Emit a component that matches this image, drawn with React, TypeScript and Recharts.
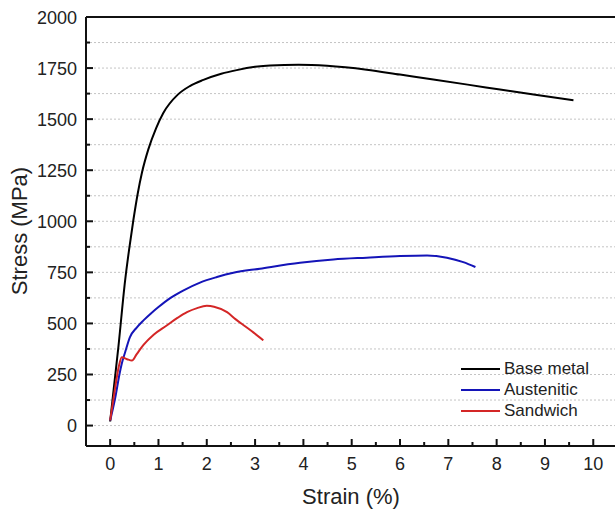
import { LineChart, Line, XAxis, YAxis, CartesianGrid, ReferenceLine, Legend } from 'recharts';

// Stress-strain curves
const seriesNames = ['Base metal', 'Austenitic', 'Sandwich'];

const baseMetalStrain = [0, 0.07, 0.17, 0.31, 0.39, 0.48, 0.57, 0.66, 0.79, 0.95, 1.1, 1.4, 1.65, 1.93, 2.3, 2.62, 3.0, 3.31, 3.9, 4.49, 5.31, 6.0, 6.69, 7.4, 8.07, 8.8, 9.59];
const baseMetalStress = [20, 171, 384, 711, 858, 1005, 1135, 1240, 1352, 1455, 1530, 1620, 1662, 1692, 1722, 1740, 1756, 1763, 1766, 1761, 1742, 1718, 1694, 1669, 1645, 1619, 1593];

const austeniticStrain = [0, 0.1, 0.2, 0.24, 0.31, 0.41, 0.55, 0.69, 0.85, 1.0, 1.25, 1.52, 1.86, 2.21, 2.55, 3.1, 3.93, 4.62, 5.31, 6.0, 6.56, 6.97, 7.31, 7.56];
const austeniticStress = [25, 130, 260, 303, 359, 433, 480, 515, 550, 580, 625, 662, 700, 727, 748, 768, 797, 813, 822, 830, 833, 822, 800, 776];

const sandwichStrain = [0, 0.1, 0.18, 0.24, 0.35, 0.45, 0.55, 0.69, 0.9, 1.17, 1.4, 1.59, 1.8, 2.0, 2.15, 2.42, 2.6, 2.8, 2.97, 3.17];
const sandwichStress = [25, 180, 290, 335, 325, 318, 350, 395, 445, 490, 528, 555, 575, 586, 582, 555, 520, 485, 455, 417];

const xTicks = [0, 0.5, 1, 1.5, 2, 2.5, 3, 3.5, 4, 4.5, 5, 5.5, 6, 6.5, 7, 7.5, 8, 8.5, 9, 9.5, 10];
const yTicks = [0, 125, 250, 375, 500, 625, 750, 875, 1000, 1125, 1250, 1375, 1500, 1625, 1750, 1875, 2000];
const gridValues = [0, 125, 250, 375, 500, 625, 750, 875, 1000, 1125, 1250, 1375, 1500, 1625, 1750, 1875];

const toPoints = (xs: number[], ys: number[]) => xs.map((x, i) => ({ strain: x, stress: ys[i] }));

const FONT = '"Liberation Sans", Arial, sans-serif';
const AXIS_X = 86;
const AXIS_Y = 446;

function YTick(props: any) {
  const { y, payload } = props;
  const major = payload.value % 250 === 0;
  return (
    <g>
      {payload.value !== 2000 && (
        <line x1={AXIS_X} x2={AXIS_X + (major ? 7 : 4)} y1={y} y2={y} stroke="#111" strokeWidth={2} />
      )}
      {major && (
        <text x={AXIS_X - 9} y={y + 6.5} textAnchor="end" fontSize={18} fontFamily={FONT} fill="#222">
          {payload.value}
        </text>
      )}
    </g>
  );
}

function XTick(props: any) {
  const { x, payload } = props;
  const major = Number.isInteger(payload.value);
  return (
    <g>
      <line x1={x} x2={x} y1={AXIS_Y} y2={AXIS_Y - (major ? 7 : 4)} stroke="#111" strokeWidth={2} />
      {major && (
        <text x={x} y={AXIS_Y + 24} textAnchor="middle" fontSize={18} fontFamily={FONT} fill="#222">
          {payload.value}
        </text>
      )}
    </g>
  );
}

function LegendBox(props: any) {
  const items = [...(props.payload || [])].sort(
    (a: any, b: any) => seriesNames.indexOf(a.value) - seriesNames.indexOf(b.value)
  );
  return (
    <div style={{ fontFamily: FONT, fontSize: 17, color: '#222' }}>
      {items.map((it: any) => (
        <div key={it.value} style={{ display: 'flex', alignItems: 'center', height: 21 }}>
          <span style={{ display: 'inline-block', width: 39, height: 2, background: it.color, marginRight: 4 }} />
          <span>{it.value}</span>
        </div>
      ))}
    </div>
  );
}

export default function App() {
  return (
    <div>
      <style>{`body{margin:0}`}</style>
      <LineChart width={615} height={511} margin={{ top: 17, right: 0, bottom: 0, left: 0 }}>
        <CartesianGrid
          horizontal
          vertical={false}
          horizontalValues={gridValues}
          stroke="#c4c4c4"
          strokeDasharray="2 2"
        />
        <XAxis
          type="number"
          dataKey="strain"
          domain={[-0.5, 10.45]}
          ticks={xTicks}
          interval={0}
          height={65}
          axisLine={{ stroke: '#111', strokeWidth: 2 }}
          tickLine={false}
          tick={<XTick />}
          allowDataOverflow
          label={{
            content: () => (
              <text x={351} y={504} textAnchor="middle" fontSize={22} fontFamily={FONT} fill="#222">
                Strain (%)
              </text>
            ),
          }}
        />
        <YAxis
          type="number"
          dataKey="stress"
          domain={[-100, 2000]}
          ticks={yTicks}
          interval={0}
          width={86}
          axisLine={{ stroke: '#111', strokeWidth: 2 }}
          tickLine={false}
          tick={<YTick />}
          allowDataOverflow
          label={{
            content: () => (
              <text
                x={27}
                y={231}
                transform="rotate(-90 27 231)"
                textAnchor="middle"
                fontSize={22}
                fontFamily={FONT}
                fill="#222"
              >
                Stress (MPa)
              </text>
            ),
          }}
        />
        <ReferenceLine y={2000} stroke="#111" strokeWidth={2} />
        <Line
          data={toPoints(baseMetalStrain, baseMetalStress)}
          dataKey="stress"
          name={seriesNames[0]}
          type="monotone"
          stroke="#000000"
          strokeWidth={2}
          dot={false}
          isAnimationActive={false}
        />
        <Line
          data={toPoints(austeniticStrain, austeniticStress)}
          dataKey="stress"
          name={seriesNames[1]}
          type="monotone"
          stroke="#1414b8"
          strokeWidth={2}
          dot={false}
          isAnimationActive={false}
        />
        <Line
          data={toPoints(sandwichStrain, sandwichStress)}
          dataKey="stress"
          name={seriesNames[2]}
          type="monotone"
          stroke="#d42626"
          strokeWidth={2}
          dot={false}
          isAnimationActive={false}
        />
        <Legend
          content={<LegendBox />}
          layout="vertical"
          align="center"
          verticalAlign="middle"
          wrapperStyle={{ position: 'absolute', left: 461, top: 358, width: 'auto' }}
        />
      </LineChart>
    </div>
  );
}
